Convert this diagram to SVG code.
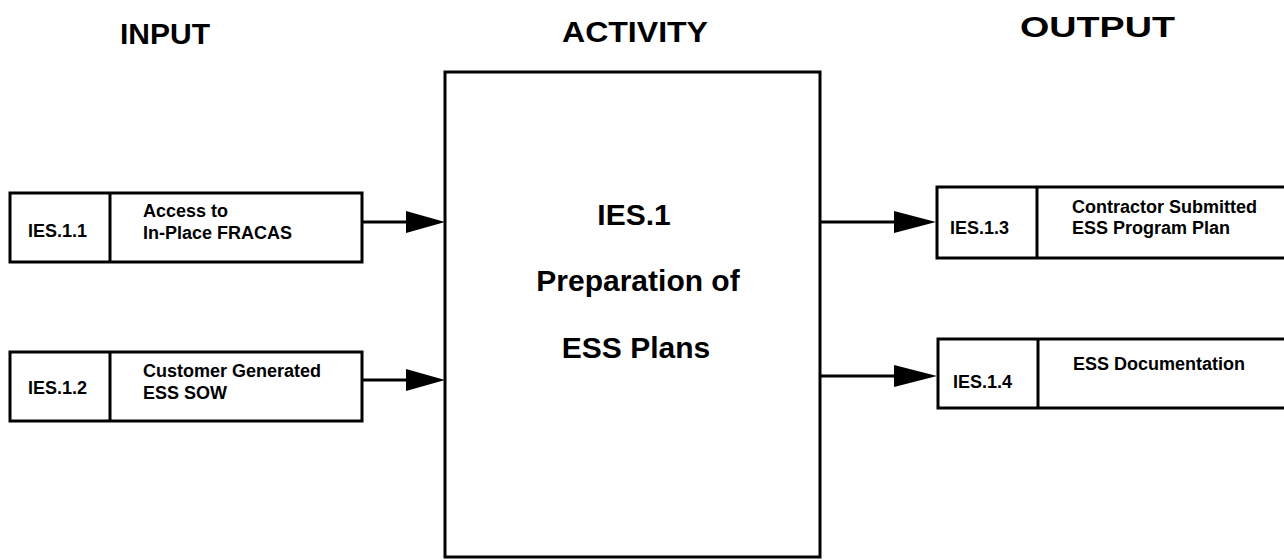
<svg xmlns="http://www.w3.org/2000/svg" width="1284" height="560" viewBox="0 0 1284 560">
  <defs>
    <style>
      .box { fill: #ffffff; stroke: #000000; stroke-width: 3; }
      .div { stroke: #000000; stroke-width: 3; }
      .line { stroke: #000000; stroke-width: 3; fill: none; }
      .head { fill: #000000; stroke: none; }
      .hdr { font-family: "Liberation Sans", Arial, Helvetica, sans-serif; font-weight: bold; font-size: 29px; fill: #000; }
      .big { font-family: "Liberation Sans", Arial, Helvetica, sans-serif; font-weight: bold; font-size: 30px; fill: #000; text-anchor: middle; }
      .lbl { font-family: "Liberation Sans", Arial, Helvetica, sans-serif; font-weight: bold; font-size: 18px; fill: #000; }
    </style>
  </defs>
  <rect width="1284" height="560" fill="#ffffff"/>

  <g id="headers">
    <text class="hdr" x="120" y="44" textLength="90" lengthAdjust="spacingAndGlyphs">INPUT</text>
    <text class="hdr" x="562" y="42" textLength="146" lengthAdjust="spacingAndGlyphs">ACTIVITY</text>
    <text class="hdr" x="1020" y="37" textLength="155" lengthAdjust="spacingAndGlyphs">OUTPUT</text>
  </g>

  <g id="connectors">
    <line class="line" x1="362" y1="222" x2="410" y2="222"/>
    <polygon class="head" points="406,211 445,222 406,233"/>
    <line class="line" x1="362" y1="380" x2="410" y2="380"/>
    <polygon class="head" points="406,369 445,380 406,391"/>
    <line class="line" x1="820" y1="222" x2="898" y2="222"/>
    <polygon class="head" points="894,211 936,222 894,233"/>
    <line class="line" x1="820" y1="376" x2="898" y2="376"/>
    <polygon class="head" points="894,365 937,376 894,387"/>
  </g>

  <g id="activity">
    <rect class="box" x="445" y="72" width="375" height="485"/>
    <text class="big" x="634" y="225">IES.1</text>
    <text class="big" x="638" y="291">Preparation of</text>
    <text class="big" x="636" y="358">ESS Plans</text>
  </g>

  <g id="input1">
    <rect class="box" x="10" y="193" width="352" height="69"/>
    <line class="div" x1="110" y1="193" x2="110" y2="262"/>
    <text class="lbl" x="28" y="237">IES.1.1</text>
    <text class="lbl" x="143" y="217">Access to</text>
    <text class="lbl" x="143" y="239">In-Place FRACAS</text>
  </g>

  <g id="input2">
    <rect class="box" x="10" y="352" width="352" height="69"/>
    <line class="div" x1="110" y1="352" x2="110" y2="421"/>
    <text class="lbl" x="28" y="394">IES.1.2</text>
    <text class="lbl" x="143" y="377">Customer Generated</text>
    <text class="lbl" x="143" y="399">ESS SOW</text>
  </g>

  <g id="output1">
    <rect class="box" x="937" y="187" width="360" height="71"/>
    <line class="div" x1="1037" y1="187" x2="1037" y2="258"/>
    <text class="lbl" x="950" y="234">IES.1.3</text>
    <text class="lbl" x="1072" y="213">Contractor Submitted</text>
    <text class="lbl" x="1072" y="234">ESS Program Plan</text>
  </g>

  <g id="output2">
    <rect class="box" x="938" y="339" width="360" height="69"/>
    <line class="div" x1="1038" y1="339" x2="1038" y2="408"/>
    <text class="lbl" x="953" y="388">IES.1.4</text>
    <text class="lbl" x="1073" y="370">ESS Documentation</text>
  </g>
</svg>
